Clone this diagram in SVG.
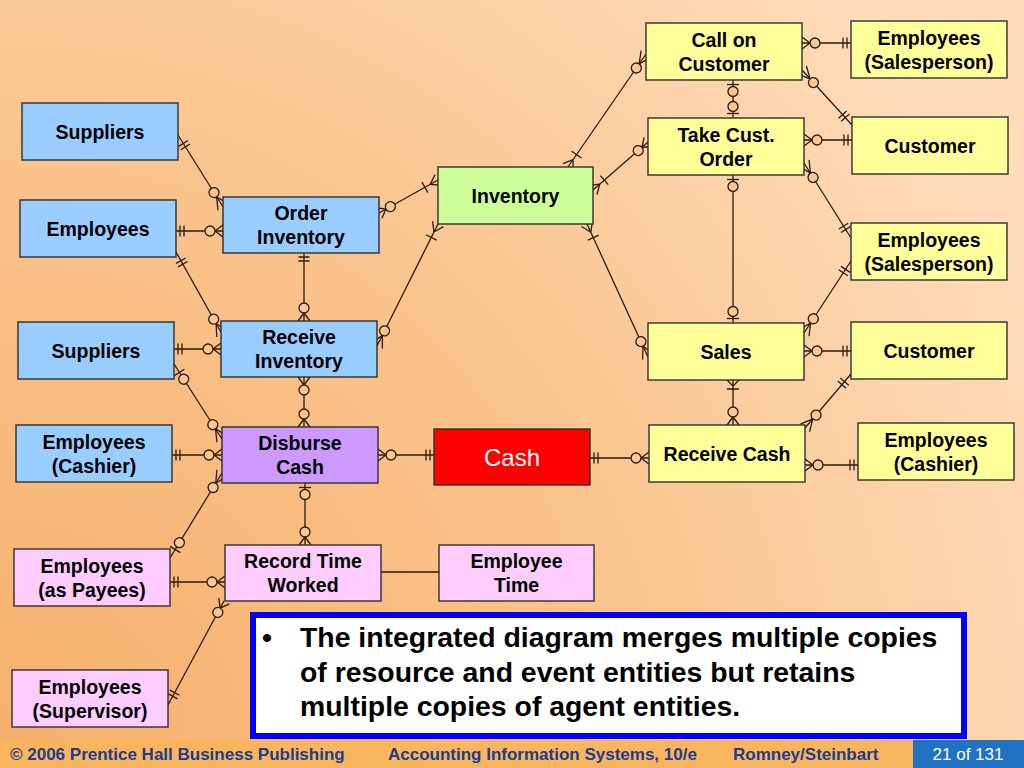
<svg xmlns="http://www.w3.org/2000/svg" width="1024" height="768" viewBox="0 0 1024 768">
<defs>
<radialGradient id="bg" gradientUnits="userSpaceOnUse" cx="0" cy="768" r="1150">
<stop offset="0" stop-color="#F5AF6A"/>
<stop offset="0.55" stop-color="#FAC48E"/>
<stop offset="1" stop-color="#FEDCBA"/>
</radialGradient>
<marker id="zm" markerUnits="userSpaceOnUse" markerWidth="40" markerHeight="24" viewBox="-30 -12 40 24" refX="0" refY="0" orient="auto-start-reverse" overflow="visible">
<path d="M-8,0 L0,-6 M-8,0 L0,6" fill="none" stroke="#2B1B0E" stroke-width="1.3"/>
<circle cx="-13" cy="0" r="5" fill="#FAC692" stroke="#2B1B0E" stroke-width="1.3"/>
</marker>
<marker id="zmd" markerUnits="userSpaceOnUse" markerWidth="40" markerHeight="24" viewBox="-30 -12 40 24" refX="0" refY="0" orient="auto-start-reverse" overflow="visible">
<path d="M-12,0 L0,-6 M-12,0 L0,6" fill="none" stroke="#2B1B0E" stroke-width="1.3"/>
<circle cx="-17" cy="0" r="5" fill="#FAC692" stroke="#2B1B0E" stroke-width="1.3"/>
</marker>
<marker id="om" markerUnits="userSpaceOnUse" markerWidth="40" markerHeight="24" viewBox="-30 -12 40 24" refX="0" refY="0" orient="auto-start-reverse" overflow="visible">
<path d="M-9,0 L0,-6 M-9,0 L0,6 M-15,-6 L-15,6" fill="none" stroke="#2B1B0E" stroke-width="1.3"/>
</marker>
<marker id="omn" markerUnits="userSpaceOnUse" markerWidth="40" markerHeight="24" viewBox="-30 -12 40 24" refX="0" refY="0" orient="auto-start-reverse" overflow="visible">
<path d="M-6,0 L0,-6 M-6,0 L0,6 M-9,-6 L-9,6" fill="none" stroke="#2B1B0E" stroke-width="1.3"/>
</marker>
<marker id="oo" markerUnits="userSpaceOnUse" markerWidth="40" markerHeight="24" viewBox="-30 -12 40 24" refX="0" refY="0" orient="auto-start-reverse" overflow="visible">
<path d="M-4,-5.5 L-4,5.5 M-8,-5.5 L-8,5.5" fill="none" stroke="#2B1B0E" stroke-width="1.3"/>
</marker>
<marker id="ood" markerUnits="userSpaceOnUse" markerWidth="40" markerHeight="24" viewBox="-30 -12 40 24" refX="0" refY="0" orient="auto-start-reverse" overflow="visible">
<path d="M-10,-5.5 L-10,5.5 M-14,-5.5 L-14,5.5" fill="none" stroke="#2B1B0E" stroke-width="1.3"/>
</marker>
<marker id="zo" markerUnits="userSpaceOnUse" markerWidth="40" markerHeight="24" viewBox="-30 -12 40 24" refX="0" refY="0" orient="auto-start-reverse" overflow="visible">
<path d="M-4.5,-6 L-4.5,6" fill="none" stroke="#2B1B0E" stroke-width="1.3"/>
<circle cx="-11.5" cy="0" r="5" fill="#FAC692" stroke="#2B1B0E" stroke-width="1.3"/>
</marker>
<marker id="zod" markerUnits="userSpaceOnUse" markerWidth="40" markerHeight="24" viewBox="-30 -12 40 24" refX="0" refY="0" orient="auto-start-reverse" overflow="visible">
<path d="M-10,-6 L-10,6" fill="none" stroke="#2B1B0E" stroke-width="1.3"/>
<circle cx="-18" cy="0" r="5" fill="#FAC692" stroke="#2B1B0E" stroke-width="1.3"/>
</marker>
</defs>
<style>
.box{stroke:#2E2E2E;stroke-width:1.4}
.blue{fill:#99CCFF}.green{fill:#CCFF99}.yellow{fill:#FFFF99}.pink{fill:#FFCCFF}.purple{fill:#CC99FF}.red{fill:#FF0000}
.t{font-family:"Liberation Sans",Arial,Helvetica,sans-serif;font-weight:bold;font-size:19.5px;fill:#000;text-anchor:middle}
.cash{font-family:"Liberation Sans",Arial,Helvetica,sans-serif;font-size:24px;fill:#FFFFFF;text-anchor:middle}
.c{fill:none;stroke:#2B1B0E;stroke-width:1.3}
.note{font-family:"Liberation Sans",Arial,Helvetica,sans-serif;font-weight:bold;font-size:28.4px;fill:#000}
.ft{font-family:"Liberation Sans",Arial,Helvetica,sans-serif;font-weight:bold;font-size:17px;fill:#233C8A}
</style>
<rect x="0" y="0" width="1024" height="768" fill="url(#bg)"/>

<g id="connectors">
<path class="c" d="M178,135 L223,207" marker-start="url(#ood)" marker-end="url(#zmd)"/>
<path class="c" d="M176,231 L223,231" marker-start="url(#oo)" marker-end="url(#zm)"/>
<path class="c" d="M176,252 L222,334" marker-start="url(#ood)" marker-end="url(#zmd)"/>
<path class="c" d="M304,253 L304,321" marker-start="url(#oo)" marker-end="url(#zm)"/>
<path class="c" d="M379,213 L438,180" marker-start="url(#zm)" marker-end="url(#om)"/>
<path class="c" d="M377,346 L438,224" marker-start="url(#zmd)" marker-end="url(#om)"/>
<path class="c" d="M174,349 L221,349" marker-start="url(#oo)" marker-end="url(#zm)"/>
<path class="c" d="M174,364 L222,439" marker-start="url(#zod)" marker-end="url(#zmd)"/>
<path class="c" d="M172,455 L222,455" marker-start="url(#oo)" marker-end="url(#zm)"/>
<path class="c" d="M304,377 L304,427" marker-start="url(#zm)" marker-end="url(#zm)"/>
<path class="c" d="M378,455 L434,455" marker-start="url(#zm)" marker-end="url(#oo)"/>
<path class="c" d="M305,483 L305,545" marker-start="url(#zo)" marker-end="url(#zm)"/>
<path class="c" d="M170,558 L222,473" marker-start="url(#zod)" marker-end="url(#zmd)"/>
<path class="c" d="M170,582 L225,582" marker-start="url(#oo)" marker-end="url(#zm)"/>
<path class="c" d="M168,705 L224,601" marker-start="url(#ood)" marker-end="url(#zm)"/>
<path class="c" d="M381,572 L439,572"/>
<path class="c" d="M590,458 L649,458" marker-start="url(#oo)" marker-end="url(#zm)"/>
<path class="c" d="M568,167 L646,54" marker-start="url(#om)" marker-end="url(#zmd)"/>
<path class="c" d="M593,190 L648,142" marker-start="url(#om)" marker-end="url(#zm)"/>
<path class="c" d="M587,224 L648,357" marker-start="url(#om)" marker-end="url(#zmd)"/>
<path class="c" d="M802,43 L851,43" marker-start="url(#zm)" marker-end="url(#oo)"/>
<path class="c" d="M802,70 L852,125" marker-start="url(#zmd)" marker-end="url(#ood)"/>
<path class="c" d="M733,80 L733,118" marker-start="url(#zo)" marker-end="url(#zo)"/>
<path class="c" d="M804,140 L852,140" marker-start="url(#zm)" marker-end="url(#oo)"/>
<path class="c" d="M804,163 L851,238" marker-start="url(#zmd)" marker-end="url(#ood)"/>
<path class="c" d="M733,175 L733,323" marker-start="url(#zo)" marker-end="url(#zo)"/>
<path class="c" d="M851,261 L804,333" marker-start="url(#ood)" marker-end="url(#zmd)"/>
<path class="c" d="M804,351 L851,351" marker-start="url(#zm)" marker-end="url(#oo)"/>
<path class="c" d="M733,380 L733,425" marker-start="url(#omn)" marker-end="url(#zm)"/>
<path class="c" d="M851,374 L805,428" marker-start="url(#ood)" marker-end="url(#zmd)"/>
<path class="c" d="M805,465 L858,465" marker-start="url(#zm)" marker-end="url(#oo)"/>
</g>

<g id="suppliers1"><rect class="box blue" x="22" y="103" width="156" height="57"/><text class="t" x="100" y="138.5">Suppliers</text></g>
<g id="employees1"><rect class="box blue" x="20" y="200" width="156" height="57"/><text class="t" x="98" y="235.5">Employees</text></g>
<g id="order-inventory"><rect class="box blue" x="223" y="197" width="156" height="56"/><text class="t" x="301" y="220">Order</text><text class="t" x="301" y="244">Inventory</text></g>
<g id="suppliers2"><rect class="box blue" x="18" y="322" width="156" height="57"/><text class="t" x="96" y="357.5">Suppliers</text></g>
<g id="receive-inventory"><rect class="box blue" x="221" y="321" width="156" height="56"/><text class="t" x="299" y="344">Receive</text><text class="t" x="299" y="368">Inventory</text></g>
<g id="employees-cashier-left"><rect class="box blue" x="16" y="425" width="156" height="57"/><text class="t" x="94" y="448.5">Employees</text><text class="t" x="94" y="472.5">(Cashier)</text></g>
<g id="disburse-cash"><rect class="box purple" x="222" y="427" width="156" height="56"/><text class="t" x="300" y="450">Disburse</text><text class="t" x="300" y="474">Cash</text></g>
<g id="cash"><rect class="box red" x="434" y="429" width="156" height="56"/><text class="cash" x="512" y="466">Cash</text></g>
<g id="employees-payees"><rect class="box pink" x="14" y="549" width="156" height="57"/><text class="t" x="92" y="572.5">Employees</text><text class="t" x="92" y="596.5">(as Payees)</text></g>
<g id="record-time-worked"><rect class="box pink" x="225" y="545" width="156" height="56"/><text class="t" x="303" y="568">Record Time</text><text class="t" x="303" y="592">Worked</text></g>
<g id="employee-time"><rect class="box pink" x="439" y="545" width="155" height="56"/><text class="t" x="516.5" y="568">Employee</text><text class="t" x="516.5" y="592">Time</text></g>
<g id="employees-supervisor"><rect class="box pink" x="12" y="670" width="156" height="57"/><text class="t" x="90" y="693.5">Employees</text><text class="t" x="90" y="717.5">(Supervisor)</text></g>
<g id="inventory"><rect class="box green" x="438" y="167" width="155" height="57"/><text class="t" x="515.5" y="202.5">Inventory</text></g>
<g id="call-on-customer"><rect class="box yellow" x="646" y="23" width="156" height="57"/><text class="t" x="724" y="46.5">Call on</text><text class="t" x="724" y="70.5">Customer</text></g>
<g id="employees-salesperson-top"><rect class="box yellow" x="851" y="21" width="156" height="57"/><text class="t" x="929" y="44.5">Employees</text><text class="t" x="929" y="68.5">(Salesperson)</text></g>
<g id="take-cust-order"><rect class="box yellow" x="648" y="118" width="156" height="57"/><text class="t" x="726" y="141.5">Take Cust.</text><text class="t" x="726" y="165.5">Order</text></g>
<g id="customer-top"><rect class="box yellow" x="852" y="117" width="156" height="57"/><text class="t" x="930" y="152.5">Customer</text></g>
<g id="employees-salesperson-mid"><rect class="box yellow" x="851" y="223" width="156" height="57"/><text class="t" x="929" y="246.5">Employees</text><text class="t" x="929" y="270.5">(Salesperson)</text></g>
<g id="sales"><rect class="box yellow" x="648" y="323" width="156" height="57"/><text class="t" x="726" y="358.5">Sales</text></g>
<g id="customer-mid"><rect class="box yellow" x="851" y="322" width="156" height="57"/><text class="t" x="929" y="357.5">Customer</text></g>
<g id="receive-cash"><rect class="box yellow" x="649" y="425" width="156" height="57"/><text class="t" x="727" y="460.5">Receive Cash</text></g>
<g id="employees-cashier-right"><rect class="box yellow" x="858" y="423" width="156" height="57"/><text class="t" x="936" y="446.5">Employees</text><text class="t" x="936" y="470.5">(Cashier)</text></g>

<g id="note">
<rect x="253" y="615" width="711" height="121" fill="#FFFFFF" stroke="#0000FF" stroke-width="6"/>
<text class="note" x="262" y="647">•</text>
<text class="note" x="300" y="647">The integrated diagram merges multiple copies</text>
<text class="note" x="300" y="682">of resource and event entities but retains</text>
<text class="note" x="300" y="716">multiple copies of agent entities.</text>
</g>

<g id="footer">
<rect x="0" y="740" width="1024" height="28" fill="#F9B55E"/>
<rect x="913" y="740" width="111" height="28" fill="#2272C3"/>
<text class="ft" x="10" y="760">© 2006 Prentice Hall Business Publishing</text>
<text class="ft" x="388" y="760">Accounting Information Systems, 10/e</text>
<text class="ft" x="733" y="760">Romney/Steinbart</text>
<text x="968" y="760" font-family="Liberation Sans, Arial, sans-serif" font-size="17" fill="#FFFFFF" text-anchor="middle">21 of 131</text>
</g>
</svg>
